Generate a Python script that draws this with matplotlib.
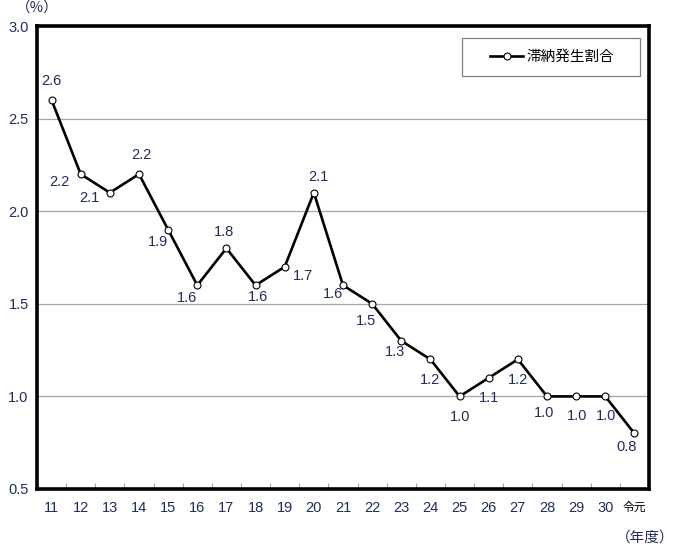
import matplotlib
matplotlib.use("Agg")
import matplotlib.pyplot as plt
from matplotlib.ticker import FixedLocator, NullFormatter
from matplotlib.patches import Rectangle

plt.rcParams['font.family'] = ['Liberation Sans', 'Noto Sans CJK JP', 'DejaVu Sans']

categories = ['11', '12', '13', '14', '15', '16', '17', '18', '19', '20',
              '21', '22', '23', '24', '25', '26', '27', '28', '29', '30', '令元']
values = [2.6, 2.2, 2.1, 2.2, 1.9, 1.6, 1.8, 1.6, 1.7, 2.1,
          1.6, 1.5, 1.3, 1.2, 1.0, 1.1, 1.2, 1.0, 1.0, 1.0, 0.8]
series_name = '滞納発生割合'
y_ticks = [0.5, 1.0, 1.5, 2.0, 2.5, 3.0]
# label offsets in pixels (dx, dy) relative to each point
label_offsets = [(0, 19), (-21, -8), (-20, -5), (2, 19), (-10, -12), (-10, -13),
                 (-2, 16), (2, -12), (18, -9), (5, 16), (-10, -9), (-6, -17),
                 (-6, -11), (0, -21), (0, -21), (0, -20), (0, -21), (-3, -17),
                 (1, -20), (1, -20), (-8, -14)]

txt_color = '#1f2d5a'
fs = 10.5

fig = plt.figure(figsize=(6.76, 5.48), dpi=100)
ax = fig.add_axes([37/676, 1-489/548, (649-37)/676, (489-26)/548])

x = list(range(len(categories)))
line, = ax.plot(x, values, color='black', lw=1.9, marker='o', ms=5,
                mfc='white', mec='black', mew=0.8, label=series_name, zorder=3)

for xi, v, (dx, dy) in zip(x, values, label_offsets):
    ax.annotate(f'{v:.1f}', (xi, v), xytext=(dx, dy), textcoords='offset pixels',
                ha='center', va='center', fontsize=fs, color=txt_color)

ax.set_xlim(-0.5, len(categories) - 0.5)
ax.set_ylim(0.5, 3.0)
ax.set_yticks(y_ticks)
ax.set_yticklabels([f'{t:.1f}' for t in y_ticks], color=txt_color, fontsize=fs)
ax.tick_params(axis='y', length=0, pad=6)
ax.yaxis.grid(True, color='#a6a6a6', lw=0.9)
ax.set_axisbelow(True)

ax.set_xticks(x)
ax.set_xticklabels(categories, color=txt_color, fontsize=fs)
for lbl in ax.get_xticklabels():
    if lbl.get_text() == '令元':
        lbl.set_fontsize(8.5)
        lbl.set_color('black')
ax.tick_params(axis='x', which='major', length=0, pad=9)
ax.xaxis.set_minor_locator(FixedLocator([i + 0.5 for i in range(len(categories) - 1)]))
ax.xaxis.set_minor_formatter(NullFormatter())
ax.tick_params(axis='x', which='minor', direction='in', length=4, color='#a0a0a0', width=0.8)

for s in ax.spines.values():
    s.set_linewidth(2.6)
    s.set_color('black')

# legend box
rect = Rectangle((462/676, 1-76/548), (640-462)/676, (76-38)/548,
                 transform=fig.transFigure, facecolor='white',
                 edgecolor='#808080', lw=0.9, zorder=4.5, clip_on=False)
ax.add_patch(rect)
leg = ax.legend(loc='center', bbox_to_anchor=(552/676, 1-57/548),
                bbox_transform=fig.transFigure, frameon=False,
                fontsize=fs, handlelength=2.3, handletextpad=0.2, borderaxespad=0)
leg.set_zorder(6)
for t in leg.get_texts():
    t.set_color('black')

fig.text(37/676, 1-8/548, '（%）', ha='center', va='center', fontsize=fs, color=txt_color,
         family=['Noto Sans CJK JP', 'DejaVu Sans'])
fig.text(645/676, 1-538/548, '（年度）', ha='center', va='center', fontsize=fs, color=txt_color,
         family=['Noto Sans CJK JP', 'DejaVu Sans'])

fig.savefig('out.png', dpi=100)
